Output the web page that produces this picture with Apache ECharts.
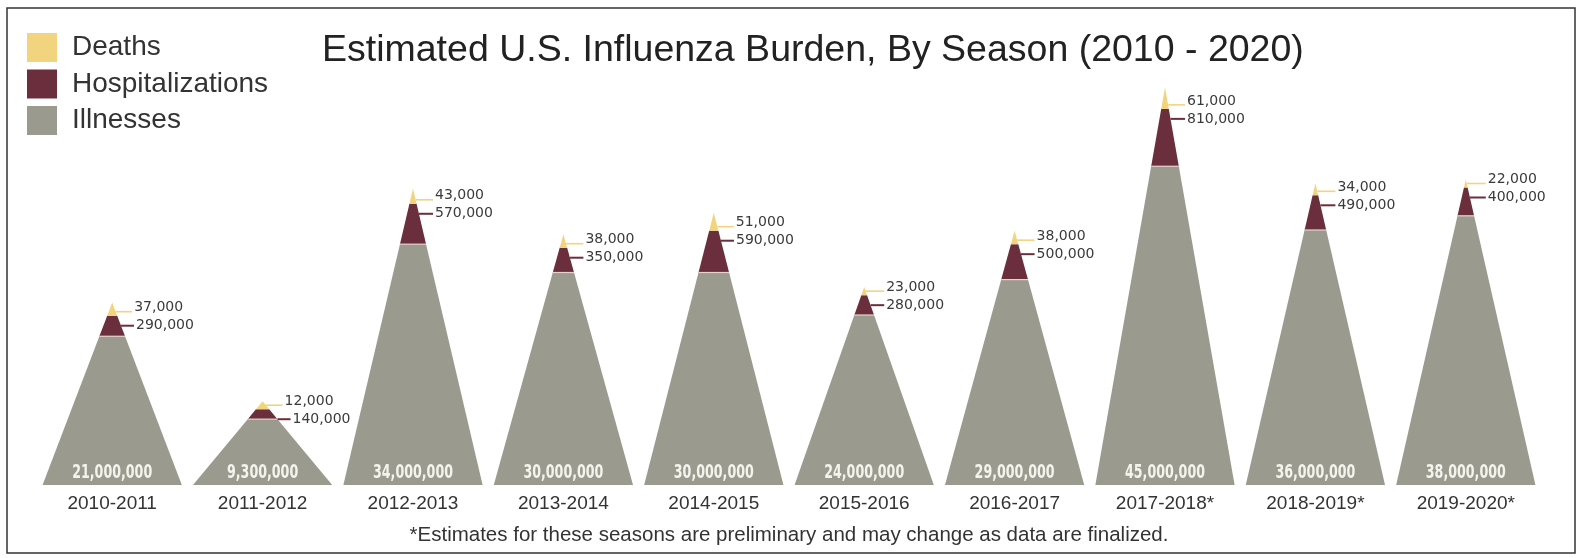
<!DOCTYPE html>
<html>
<head>
<meta charset="utf-8">
<script src="https://cdn.jsdelivr.net/npm/echarts@6/dist/echarts.min.js"></script>
<style>
html,body{margin:0;padding:0;background:#ffffff;}
#chart{width:1582px;height:558px;}
</style>
</head>
<body>
<div id="chart"></div>
<script>
// ---- data ----
const seasons = ['2010-2011','2011-2012','2012-2013','2013-2014','2014-2015','2015-2016','2016-2017','2017-2018*','2018-2019*','2019-2020*'];
const illnesses = [21000000, 9300000, 34000000, 30000000, 30000000, 24000000, 29000000, 45000000, 36000000, 38000000];
const hospitalizations = [290000, 140000, 570000, 350000, 590000, 280000, 500000, 810000, 490000, 400000];
const deaths = [37000, 12000, 43000, 38000, 51000, 23000, 38000, 61000, 34000, 22000];

// visual exaggeration of the smaller bands (infographic style)
const HOSP_SCALE = 10;
const DEATH_SCALE = 50;

const C_GRAY = '#9a9b8e', C_MAROON = '#6b2e3c', C_YELLOW = '#f2d47f';
const fmt = v => v.toLocaleString('en-US');

const rows = seasons.map((s, i) => [i, illnesses[i] / 1e6, hospitalizations[i] / 1e6, deaths[i] / 1e6]);

function geom(api) {
  const i = api.value(0), ill = api.value(1), hosp = api.value(2), dth = api.value(3);
  const base = api.coord([i, 0]);
  const cx = base[0], yB = base[1];
  const yG = api.coord([i, ill])[1];
  const yM = api.coord([i, ill + hosp * HOSP_SCALE])[1];
  let yP = api.coord([i, ill + hosp * HOSP_SCALE + dth * DEATH_SCALE])[1];
  yP = Math.min(yP, yM - 8);
  const half = api.size([1, 0])[0] * 0.463;
  const hw = y => half * (y - yP) / (yB - yP);
  return {i, ill, hosp, dth, cx, yB, yG, yM, yP, half, hw};
}

const numFont = "'DejaVu Sans', sans-serif";

function renderIll(params, api) {
  const g = geom(api);
  return {type: 'group', children: [
    {type: 'polygon', shape: {points: [[g.cx - g.half, g.yB], [g.cx + g.half, g.yB], [g.cx + g.hw(g.yG), g.yG], [g.cx - g.hw(g.yG), g.yG]]},
     style: {fill: C_GRAY}},
    {type: 'text', x: g.cx, y: g.yB - 12, scaleX: 0.74,
     style: {text: fmt(illnesses[g.i]), x: 0, y: 0, align: 'center', verticalAlign: 'middle',
      fill: '#f4f3ec', fontSize: 19, fontWeight: 'bold', fontFamily: "'DejaVu Sans Condensed', 'DejaVu Sans', sans-serif"}}
  ]};
}

function renderHosp(params, api) {
  const g = geom(api);
  const dy = g.yM - 4;
  const hy = dy + 14;
  const e2 = g.cx + g.hw(hy);
  const end2 = Math.max(g.cx + 20, e2 + 13);
  return {type: 'group', children: [
    {type: 'polygon', shape: {points: [[g.cx - g.hw(g.yG), g.yG], [g.cx + g.hw(g.yG), g.yG], [g.cx + g.hw(g.yM), g.yM], [g.cx - g.hw(g.yM), g.yM]]},
     style: {fill: C_MAROON}},
    {type: 'line', shape: {x1: g.cx - g.hw(g.yG), y1: g.yG, x2: g.cx + g.hw(g.yG), y2: g.yG}, style: {stroke: '#e6d2cd', lineWidth: 1.2}},
    {type: 'line', shape: {x1: e2, y1: hy, x2: end2, y2: hy}, style: {stroke: C_MAROON, lineWidth: 2}},
    {type: 'text', style: {text: fmt(hospitalizations[g.i]), x: end2 + 2, y: hy, align: 'left', verticalAlign: 'middle',
      fill: '#3a3a3a', fontSize: 14, fontFamily: numFont}}
  ]};
}

function renderDeaths(params, api) {
  const g = geom(api);
  const dy = g.yM - 4;
  const e = g.cx + g.hw(dy);
  const end = Math.max(g.cx + 20, e + 13);
  return {type: 'group', children: [
    {type: 'polygon', shape: {points: [[g.cx - g.hw(g.yM), g.yM], [g.cx + g.hw(g.yM), g.yM], [g.cx, g.yP]]},
     style: {fill: C_YELLOW}},
    {type: 'line', shape: {x1: e, y1: dy, x2: end, y2: dy}, style: {stroke: C_YELLOW, lineWidth: 1.6}},
    {type: 'text', style: {text: fmt(deaths[g.i]), x: end + 2, y: dy - 4, align: 'left', verticalAlign: 'middle',
      fill: '#3a3a3a', fontSize: 14, fontFamily: numFont}}
  ]};
}

const chart = echarts.init(document.getElementById('chart'), null, {renderer: 'canvas'});
chart.setOption({
  animation: false,
  backgroundColor: '#ffffff',
  title: [
    {text: 'Estimated U.S. Influenza Burden, By Season (2010 - 2020)', left: 317, top: 27,
     textStyle: {fontSize: 37.5, fontWeight: 'normal', color: '#222', fontFamily: "'Liberation Sans', Arial, sans-serif"}},
    {text: '*Estimates for these seasons are preliminary and may change as data are finalized.', left: 784, top: 520, textAlign: 'center',
     textStyle: {fontSize: 20.5, fontWeight: 'normal', color: '#333', fontFamily: "'Liberation Sans', Arial, sans-serif"}}
  ],
  legend: {
    data: ['Deaths', 'Hospitalizations', 'Illnesses'],
    orient: 'vertical', left: 22, top: 28, itemWidth: 30, itemHeight: 29, itemGap: 7.5, icon: 'rect',
    selectedMode: false,
    textStyle: {fontSize: 28, color: '#333', fontFamily: "'Liberation Sans', Arial, sans-serif", padding: [0, 0, 0, 10]}
  },
  grid: {left: 37, right: 41, top: 60, bottom: 73},
  xAxis: {
    type: 'category', data: seasons,
    axisLine: {show: false}, axisTick: {show: false}, splitLine: {show: false},
    axisLabel: {fontSize: 19, color: '#333', margin: 9, fontFamily: "'Liberation Sans', Arial, sans-serif"}
  },
  yAxis: {type: 'value', min: 0, max: 60, show: false},
  graphic: [
    {type: 'rect', shape: {x: 7, y: 8, width: 1568, height: 545}, style: {fill: 'none', stroke: '#333', lineWidth: 1.5}, silent: true, z: 100}
  ],
  series: [
    {name: 'Illnesses', type: 'custom', renderItem: renderIll, data: rows, encode: {x: 0, y: 1}, itemStyle: {color: C_GRAY}, z: 2},
    {name: 'Hospitalizations', type: 'custom', renderItem: renderHosp, data: rows, encode: {x: 0, y: 1}, itemStyle: {color: C_MAROON}, z: 3},
    {name: 'Deaths', type: 'custom', renderItem: renderDeaths, data: rows, encode: {x: 0, y: 1}, itemStyle: {color: C_YELLOW}, z: 4}
  ]
});
</script>
</body>
</html>
